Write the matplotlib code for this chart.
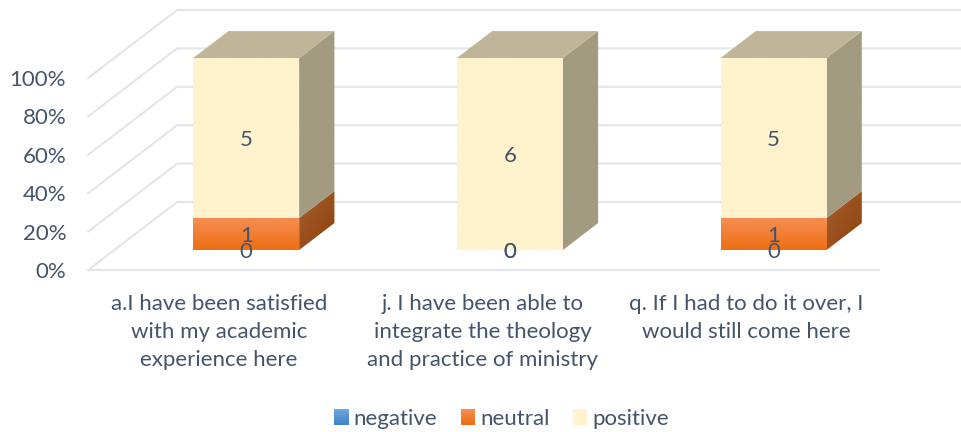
import numpy as np
import matplotlib
matplotlib.use("Agg")
import matplotlib.pyplot as plt
from matplotlib.colors import to_rgb
from matplotlib.legend_handler import HandlerBase
from matplotlib.patches import Patch, Polygon, Rectangle

plt.rcParams["font.family"] = ["Lato", "DejaVu Sans"]

categories = [
    "a.I have been satisfied\nwith my academic\nexperience here",
    "j. I have been able to\nintegrate the theology\nand practice of ministry",
    "q. If I had to do it over, I\nwould still come here",
]
series_names = ["negative", "neutral", "positive"]
negative = [0, 0, 0]
neutral = [1, 0, 1]
positive = [5, 6, 5]
y_ticks = [0, 20, 40, 60, 80, 100]

text_col = "#44546A"
grid_col = "#E2E5EB"
# colours per series: front top, front bottom, side start, side end
front_cols = {"negative": ("#6AA5DC", "#3F85C8"),
              "neutral": ("#F58D52", "#EE6F14"),
              "positive": ("#FFF2CC", "#FFF2CC")}
side_cols = {"negative": ("#34628F", "#2A5480"),
             "neutral": ("#A65C30", "#8E4308"),
             "positive": ("#A29B80", "#A29B80")}
top_cols = {"negative": "#4A7BA8", "neutral": "#B5683A", "positive": "#BFB69A"}

# the axes fill the figure, x in category units and y in percent
per_cat = 263.7
per_pct = 1.92
fig = plt.figure(figsize=(9.61, 4.32), dpi=100)
ax = fig.add_axes([0, 0, 1, 1])
xlim = (-220 / per_cat, (961 - 220) / per_cat)
ylim = (-(432 - 270) / per_pct, 270 / per_pct)
ax.axis("off")

# oblique depth: how far the back wall sits from the front edge
depth_x = 89 / per_cat
depth_y = 68 / per_pct
bar_front = 0.294
bar_back = 0.69
half_w = 53 / per_cat
text_drop = 2 / per_pct  # labels sit a bit under their nominal centre


def proj(x, y, d):
    return x + d * depth_x, y + d * depth_y


def gradient(corners, start, end, vertical=True):
    # fill a polygon with a colour ramp, clipped to its outline
    pts = np.array(corners)
    c0, c1 = np.array(to_rgb(start)), np.array(to_rgb(end))
    t = np.linspace(0, 1, 40)
    if vertical:
        img = np.array([c1 * (1 - v) + c0 * v for v in t])[:, None, :]
    else:
        tt = (t[:, None] + t[None, :]) / 2
        tt = (tt[:, ::-1])
        img = c1 * (1 - tt[..., None]) + c0 * tt[..., None]
    im = ax.imshow(img, extent=(pts[:, 0].min(), pts[:, 0].max(), pts[:, 1].min(), pts[:, 1].max()),
                   origin="lower", aspect="auto", interpolation="bilinear", zorder=3)
    poly = Polygon(corners, closed=True, transform=ax.transData, fc="none", ec="none")
    ax.add_patch(poly)
    im.set_clip_path(poly)


# walls and floor
x_left, x_right = -0.5, 2.5
for t in y_ticks:
    x0, y0 = proj(x_left, t, 0)
    x1, y1 = proj(x_left, t, 1)
    x2, y2 = proj(x_right, t, 1)
    ax.plot([x0, x1, x2], [y0, y1, y2], color=grid_col, lw=1.5, zorder=1, solid_joinstyle="miter")
    ax.text(x0 - 22 / per_cat, t - text_drop, f"{t}%", ha="right", va="center", fontsize=16, color=text_col)
ax.plot([x_left, x_right], [0, 0], color=grid_col, lw=1.5, zorder=1)

# stacked bars as percent of each category
for i in range(len(categories)):
    vals = [negative[i], neutral[i], positive[i]]
    total = sum(vals)
    base = 0
    for name, v in zip(series_names, vals):
        h = v / total * 100
        if h > 0:
            fx0, fy0 = proj(i - half_w, base, bar_front)
            fx1, fy1 = proj(i + half_w, base + h, bar_front)
            bx, by0 = proj(i + half_w, base, bar_back)
            by1 = by0 + h
            gradient([(fx1, fy0), (bx, by0), (bx, by1), (fx1, fy1)], *side_cols[name], vertical=False)
            gradient([(fx0, fy0), (fx1, fy0), (fx1, fy1), (fx0, fy1)], *front_cols[name])
        base += h
    top = base
    fx0, fy = proj(i - half_w, top, bar_front)
    fx1, _ = proj(i + half_w, top, bar_front)
    bx0, by = proj(i - half_w, top, bar_back)
    bx1, _ = proj(i + half_w, top, bar_back)
    ax.add_patch(Polygon([(fx0, fy), (fx1, fy), (bx1, by), (bx0, by)], fc=top_cols["positive"], ec="none", zorder=3))

    # value labels, the zero ones land on the bar's front edge
    base = 0
    for v in vals:
        h = v / total * 100
        lx, ly = proj(i, base + h / 2, bar_front)
        ax.text(lx, ly - text_drop, str(v), ha="center", va="center", fontsize=16, color=text_col, zorder=5)
        base += h

    ax.text(i - 1 / per_cat, -(294 - 270) / per_pct, categories[i], ha="center", va="top", fontsize=16,
            color=text_col, linespacing=1.5, zorder=5)


class GradientHandler(HandlerBase):
    def create_artists(self, legend, orig, xd, yd, w, h, fontsize, trans):
        c0, c1 = (np.array(to_rgb(c)) for c in front_cols[orig.get_label()])
        strips = []
        for k in range(10):
            col = c0 + (c1 - c0) * k / 9
            strips.append(Rectangle((-xd, -yd + h * (1 - (k + 1) / 10)), w, h / 10 + 0.2, fc=col, ec="none",
                                    transform=trans))
        return strips


handles = [Patch(label=name) for name in series_names]
ax.legend(handles=handles, ncol=3, loc="center", bbox_to_anchor=(501.5 / 961, 1 - 419 / 432), frameon=False,
          fontsize=16, labelcolor=text_col, handlelength=0.65, handleheight=0.7, handletextpad=0.22,
          columnspacing=1.05, handler_map={Patch: GradientHandler()})

ax.set_xlim(*xlim)
ax.set_ylim(*ylim)
fig.savefig("out.png", dpi=100)
